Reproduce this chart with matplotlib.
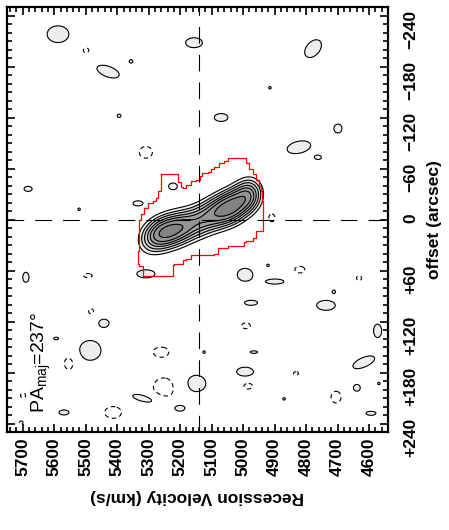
import numpy as np
import matplotlib
matplotlib.use('Agg')
import matplotlib.pyplot as plt
from matplotlib.ticker import MultipleLocator, FixedLocator

# --- chart data (velocity in km/s, offset in arcsec) ---
v_sys = 5140
vel_ticks = [5700, 5600, 5500, 5400, 5300, 5200, 5100, 5000, 4900, 4800, 4700, 4600]
off_ticks = [-240, -180, -120, -60, 0, 60, 120, 180, 240]
pa_label = 'PA$_{\\mathregular{maj}}$=237\u00b0'

# galaxy emission ridge: centre velocity, offset, peak
gal_vel = [5302, 5267, 5229, 5188, 5143, 5102, 5064, 5029, 4994, 4975]
gal_off = [24.7, 17.6, 12.9, 8.2, 2.4, -4.7, -10.6, -16.5, -24.7, -31.8]
gal_amp = [1.5, 3.4, 3.9, 3.4, 2.8, 2.9, 3.7, 3.8, 2.7, 2.0]

# positive noise peaks: velocity, offset, width (km/s), width (arcsec), tilt, peak
pos_vel = [5588, 5429, 5156, 5070, 5683, 5334, 5223, 4778, 4699, 4823, 4762,
           4994, 4899, 4975, 4737, 4573, 4966, 4994, 4617, 4639, 4594, 5309,
           5442, 5486, 5150, 5309, 5201, 5569, 5690, 5594,
           5521, 4915, 4921, 4870, 4569, 5124, 5356, 5394, 4712]
pos_off = [-218, -174, -208, -120, -36, -19, -39, -201, -107, -85, -73,
           65, 73, 98, 101, 131, 156, 179, 168, 198, 228, 64,
           122, 154, 193, 211, 222, 227, 68, 140,
           -12, -155, 54, 211, 193, 156, -186, -122, 85]
pos_wv = [35, 36, 27, 22, 13, 16, 14, 27, 13, 38, 13,
          25, 29, 21, 30, 13, 12, 27, 35, 11, 16, 29,
          16, 35, 32, 44, 16, 16, 10, 8,
          4, 4, 4, 4, 4, 4, 6, 6, 5]
pos_wo = [10, 7.6, 5.9, 4.7, 3, 3, 4, 10.6, 5.3, 7.6, 3,
          7.6, 3, 3, 5.9, 8, 1.5, 5.3, 7.6, 4, 2.4, 4.7,
          4.7, 11.8, 10, 5.9, 3.5, 3, 6, 1.5,
          1.5, 1.5, 1.5, 1.5, 1.5, 1.5, 2, 2, 2]
pos_rho = [0, -0.5, 0, 0, 0, 0, 0, 0.4, 0, 0.3, 0,
           0, 0, 0, 0, 0, 0, 0, 0.6, 0, 0, 0,
           0, 0, 0, -0.6, 0, 0, 0, 0,
           0, 0, 0, 0, 0, 0, 0, 0, 0]
pos_amp = [1.55] * 10 + [1.3] + [1.55] * 28

# negative noise peaks
neg_vel = [5499, 5309, 4909, 4820, 4632, 4991, 4984, 4832, 4705, 5493,
           5483, 5553, 5261, 5251, 5699, 5413, 5705]
neg_off = [-199, -79, -2, 59, 69, 125, 196, 181, 209, 66,
           108, 169, 156, 198, 207, 227, 239]
neg_wv = [9, 21, 10, 16, 8, 14, 14, 8, 16, 14,
          8, 16, 25, 35, 8, 27, 6]
neg_wo = [3, 7, 4.7, 4, 3, 3.5, 3.5, 2, 7, 2.4,
          3, 8, 6, 12, 3, 7, 2]

# mask outline (red)
mask_vel = [5261, 5210, 5207, 5197, 5191, 5182, 5166, 5150, 5137, 5131, 5112,
            5102, 5093, 5077, 5061, 5048, 4997, 4991, 4982, 4969, 4959, 4950,
            4944, 4940, 4937, 4959, 4969, 4991, 4997, 5029, 5048, 5080, 5093,
            5156, 5166, 5182, 5191, 5220, 5223, 5315, 5318, 5331, 5334, 5331,
            5324, 5315, 5302, 5286, 5277, 5270, 5261]
mask_off = [-54, -54, -44, -38, -37, -41, -45, -47, -51, -55, -56,
            -59, -62, -66, -69, -72, -72, -66, -60, -54, -46, -40,
            -34, -22, 13, 22, 25, 27, 31, 31, 34, 40, 42,
            42, 46, 48, 52, 54, 66, 66, 55, 52, 37, 1,
            -7, -14, -19, -22, -25, -34, -54]


def blob(V, O, v0, o0, amp, sv, so, rho=0.0):
    u = (V - v0) / sv
    w = (O - o0) / so
    return amp * np.exp(-(u * u - 2 * rho * u * w + w * w) / (2 * (1 - rho * rho)))


vv = np.linspace(4530, 5760, 700)
oo = np.linspace(-255, 255, 600)
V, O = np.meshgrid(vv, oo)
field = np.zeros_like(V)
for v0, o0, a in zip(gal_vel, gal_off, gal_amp):
    field += blob(V, O, v0, o0, a, 28, 12.5)
for v0, o0, sv, so, r, a in zip(pos_vel, pos_off, pos_wv, pos_wo, pos_rho, pos_amp):
    field += blob(V, O, v0, o0, a, sv * 1.05, so * 1.05, r)
for v0, o0, sv, so in zip(neg_vel, neg_off, neg_wv, neg_wo):
    field -= blob(V, O, v0, o0, 1.55, sv * 1.05, so * 1.05)

# staircase version of the mask outline
step_v, step_o = [mask_vel[0]], [mask_off[0]]
for i in range(1, len(mask_vel)):
    step_v += [mask_vel[i], mask_vel[i]]
    step_o += [mask_off[i - 1], mask_off[i]]

plt.rcParams['font.family'] = ['Liberation Sans', 'DejaVu Sans']

fig = plt.figure(figsize=(4.49, 5.30), dpi=100)
ax = fig.add_axes([7 / 449, 1 - 432 / 530, 381 / 449, 425 / 530])

levels = [1, 1.6, 2.2, 2.9, 3.6, 4.4, 5.5, 100]
greys = ['#eeeeee', '#dadada', '#c8c8c8', '#b6b6b6', '#a4a4a4', '#949494',
         '#828282']
ax.contourf(V, O, field, levels=levels, colors=greys)
ax.contour(V, O, field, levels=levels[:-1], colors='black', linewidths=0.8,
           linestyles='solid')
ax.contour(V, O, field, levels=[-1], colors='black', linewidths=0.8,
           linestyles=[(0, (4, 3))])

ax.plot(step_v, step_o, color='red', lw=0.9)

ax.axvline(v_sys, color='black', lw=0.8, dashes=(15, 10))
ax.axhline(0, color='black', lw=0.8, dashes=(15, 10))

ax.set_xlim(5750, 4540)
ax.set_ylim(250, -250)

ax.xaxis.set_major_locator(FixedLocator(vel_ticks))
ax.xaxis.set_minor_locator(MultipleLocator(20))
ax.set_xticklabels([str(t) for t in vel_ticks], rotation=90,
                   fontsize=12.5, fontweight='bold')
ax.yaxis.set_major_locator(FixedLocator(off_ticks))
ax.yaxis.set_minor_locator(MultipleLocator(10))
off_labels = [('+%d' % t if t > 0 else ('0' if t == 0 else '\u2212%d' % -t))
              for t in off_ticks]
ax.set_yticklabels(off_labels, rotation=90, fontsize=12.5, fontweight='bold')

ax.tick_params(which='both', direction='in', top=True, bottom=True,
               left=True, right=True, labelleft=False, labelright=True,
               width=1.2)
ax.tick_params(which='major', length=6)
ax.tick_params(which='minor', length=3.5)
ax.tick_params(axis='x', pad=4)
ax.tick_params(axis='y', pad=11)
for s in ax.spines.values():
    s.set_linewidth(1.6)

ax.set_xlabel('Recession Velocity (km/s)', rotation=180, fontsize=12.5,
              fontweight='bold', labelpad=9)
ax.yaxis.set_label_position('right')
ax.set_ylabel('offset (arcsec)', rotation=90, fontsize=12.5,
              fontweight='bold', labelpad=6)

ax.text(0.089, 0.045, pa_label, transform=ax.transAxes, rotation=90,
        ha='center', va='bottom', fontsize=14)

fig.savefig('out.png', dpi=100)
